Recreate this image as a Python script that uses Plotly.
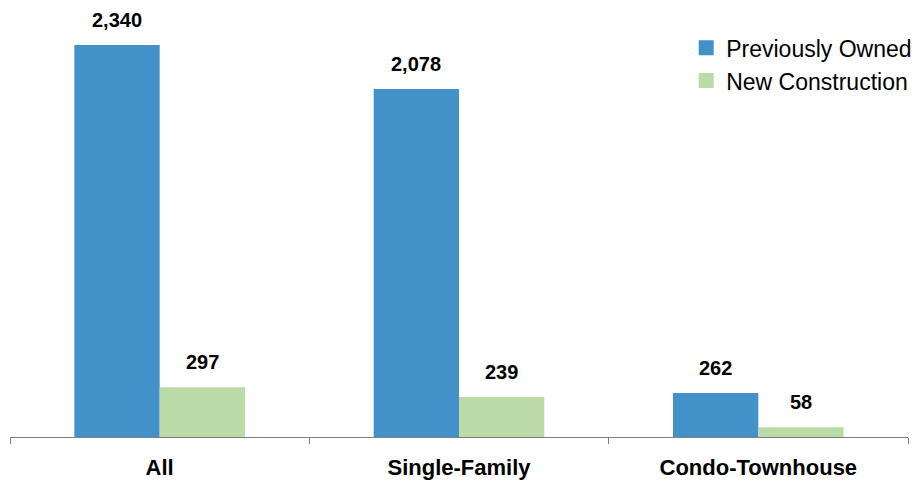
import plotly.graph_objects as go

categories = ["All", "Single-Family", "Condo-Townhouse"]
previously_owned = [2340, 2078, 262]
new_construction = [297, 239, 58]

series_names = ["Previously Owned", "New Construction"]
colors = ["#4391C9", "#BADBA7"]

fnt = "Liberation Sans, Arial, sans-serif"
bargap = 0.43

fig = go.Figure()
for name, vals, col in zip(series_names, [previously_owned, new_construction], colors):
    fig.add_trace(go.Bar(
        x=categories, y=vals, name=name,
        marker=dict(color=col, line=dict(width=0)),
        showlegend=False, hoverinfo="x+y+name",
    ))
    # legend proxy with a square marker
    fig.add_trace(go.Scatter(
        x=[None], y=[None], mode="markers", name=name,
        marker=dict(symbol="square", size=15, color=col, line=dict(width=0)),
        showlegend=True,
    ))

# value labels above bars
plot_w = 919 - 10 - 11
cat_w = plot_w / len(categories)
half_bar = cat_w * (1 - bargap) / 4
annotations = []
for sign, vals in zip([-1, 1], [previously_owned, new_construction]):
    for c, v in zip(categories, vals):
        annotations.append(dict(
            x=c, y=v, xref="x", yref="y", text=f"<b>{v:,}</b>",
            showarrow=False, xanchor="center", yanchor="bottom",
            xshift=sign * half_bar, yshift=12,
            font=dict(family=fnt, size=20, color="black"),
        ))

fig.update_layout(
    width=919, height=482,
    margin=dict(l=10, r=11, t=20, b=45, autoexpand=False),
    paper_bgcolor="white", plot_bgcolor="white",
    barmode="group", bargap=bargap, bargroupgap=0,
    font=dict(family=fnt, color="black"),
    showlegend=True,
    annotations=annotations,
    legend=dict(
        x=0.753, xanchor="left", y=0.985, yanchor="top",
        font=dict(family=fnt, size=23, color="black"),
        bgcolor="rgba(0,0,0,0)", tracegroupgap=0, itemwidth=30,
        itemsizing="trace",
    ),
    xaxis=dict(
        range=[-0.5, 2.5], automargin=False,
        showline=True, linecolor="#808080", linewidth=1.2,
        ticks="outside", tickson="boundaries", ticklen=6, tickcolor="#808080",
        tickfont=dict(family=fnt, size=22, color="black"),
        tickmode="array", tickvals=categories,
        ticktext=[f"<b>{c}</b>" for c in categories],
        ticklabelstandoff=10,
        showgrid=False, zeroline=False,
    ),
    yaxis=dict(
        range=[0, 2490], visible=False, showgrid=False, zeroline=False,
        automargin=False,
    ),
)

fig.write_html(
    "out.html",
    config={"displayModeBar": False},
    post_script="document.body.style.margin='0px';",
)
